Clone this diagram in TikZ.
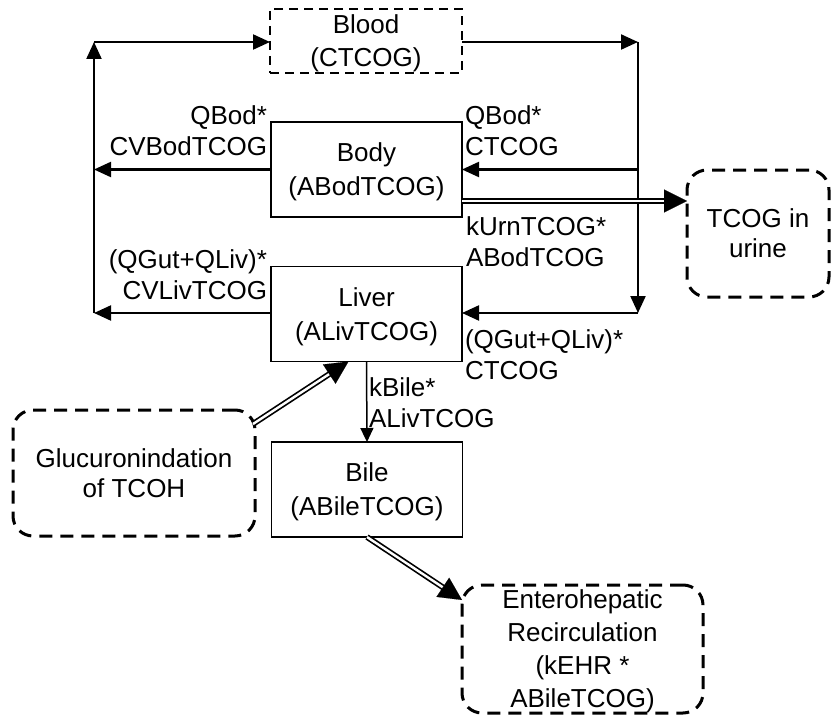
\documentclass[tikz,border=0pt]{standalone}
\usepackage{fontspec}
\setmainfont{Liberation Sans}
\usetikzlibrary{arrows.meta,calc}

\begin{document}
\begin{tikzpicture}[x=1pt,y=-1pt,
  every node/.style={inner sep=0pt, outer sep=0pt},
  comp/.style={draw, line width=1.3pt, minimum width=191pt, minimum height=95pt,
    align=center, font=\fontsize{26}{34}\selectfont, text depth=0pt},
  blood/.style={draw, line width=1.3pt, dash pattern=on 9pt off 6pt,
    minimum width=192pt, minimum height=64pt,
    align=center, font=\fontsize{26}{33}\selectfont, text depth=0pt},
  proc/.style={draw, line width=3pt, dash pattern=on 13pt off 8pt,
    rounded corners=20pt, align=center, text depth=0pt},
  lbl/.style={font=\fontsize{26}{31}\selectfont},
  flow/.style={line width=2.2pt, -{Triangle[length=17pt,width=15pt]}},
  thinflow/.style={line width=1.5pt, -{Triangle[length=14pt,width=13pt]}},
  dblline/.style={double, double distance=2.4pt, line width=1.7pt, shorten >=21pt},
  bigtip/.style={line width=0.1pt, -{Triangle[length=23pt,width=23pt]}},
]
\useasboundingbox (0,0) rectangle (831,717);

% compartments
\node[blood] (blood) at (366,41) {Blood\\(CTCOG)};
\node[comp] (body)  at (366.5,169.5) {Body\\(ABodTCOG)};
\node[comp] (liver) at (366.5,314)   {Liver\\(ALivTCOG)};
\node[comp] (bile)  at (367,489.5)   {Bile\\(ABileTCOG)};

% processes
\node[proc, minimum width=142pt, minimum height=127pt,
  font=\fontsize{26}{30}\selectfont] (urine) at (758,233.5) {TCOG in\\urine};
\node[proc, minimum width=242pt, minimum height=126pt,
  font=\fontsize{26}{30}\selectfont] (gluc) at (134,473) {Glucuronindation\\of TCOH};
\node[proc, minimum width=241pt, minimum height=128pt,
  font=\fontsize{26}{33}\selectfont] (ehr) at (582.5,649)
  {Enterohepatic\\Recirculation\\(kEHR *\\ABileTCOG)};

% corners of the circulation loop
\coordinate (tl) at (94,42);
\coordinate (tr) at (638,42);
\coordinate (bl) at (94,313);
\coordinate (br) at (638,313);

% arterial / venous loop
\draw[flow] (bl) -- (tl);
\draw[flow] (tl) -- (tl -| blood.west);
\draw[flow] (tr -| blood.east) -- (tr);
\draw[flow] (tr) -- (br);
\draw[flow] (tr |- body.east) -- (body.east);
\draw[flow] (br) -- (br -| liver.east);
\draw[flow] (body.west) -- (body.west -| tl);
\draw[flow] (liver.west |- bl) -- (bl);

% liver to bile
\draw[thinflow] (liver.south) -- (bile.north);

% urinary excretion
\coordinate (u1) at ([yshift=-31.5pt]body.east);
\coordinate (u2) at (u1 -| urine.west);
\draw[dblline] (u1) -- (u2);
\draw[bigtip] ($(u2)!23pt!(u1)$) -- (u2);

% glucuronidation into liver
\coordinate (g1) at ([shift={(-2pt,-14pt)}]gluc.north east);
\coordinate (g2) at ([xshift=-18pt]liver.south);
\draw[dblline] (g1) -- (g2);
\draw[bigtip] ($(g2)!23pt!(g1)$) -- (g2);

% bile to enterohepatic recirculation
\coordinate (b1) at (bile.south);
\coordinate (b2) at ([yshift=-15pt]ehr.north west);
\draw[dblline] (b1) -- (b2);
\draw[bigtip] ($(b2)!23pt!(b1)$) -- (b2);

% flow labels
\node[lbl, align=right, anchor=east] (l1) at (267,131) {QBod*\\CVBodTCOG};
\node[lbl, align=left,  anchor=west] (l2) at (465,131) {QBod*\\CTCOG};
\node[lbl, align=left,  anchor=west] (l3) at (466,242) {kUrnTCOG*\\ABodTCOG};
\node[lbl, align=right, anchor=east] (l4) at (267,275) {(QGut+QLiv)*\\CVLivTCOG};
\node[lbl, align=left,  anchor=west] (l5) at (465,355) {(QGut+QLiv)*\\CTCOG};
\node[lbl, align=left,  anchor=west] (l6) at (369,403) {kBile*\\ALivTCOG};
\end{tikzpicture}
\end{document}
